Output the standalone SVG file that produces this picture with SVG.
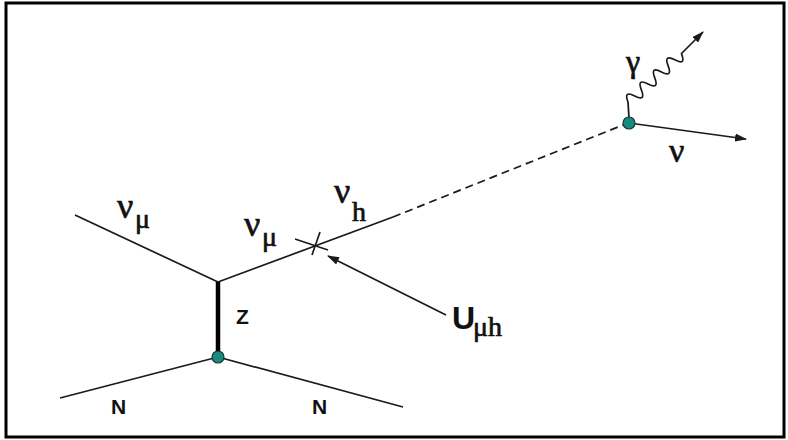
<svg xmlns="http://www.w3.org/2000/svg" width="788" height="440" viewBox="0 0 788 440">
<style>
.ln{stroke:#1a1a1a;stroke-width:1.7;fill:none}
.g{font-family:"Liberation Serif",serif;fill:#111;stroke:#111;stroke-width:0.7}
.b{font-family:"Liberation Sans",Arial,sans-serif;font-weight:bold;fill:#111}
.dot{fill:#1a8a7e;stroke:#103a36;stroke-width:1.2}
</style>
<defs>
<marker id="ah" viewBox="0 0 12 8" refX="11" refY="4" markerWidth="12" markerHeight="8" markerUnits="userSpaceOnUse" orient="auto">
<path d="M0,0 L12,4 L0,8 Z" fill="#1a1a1a"/>
</marker>
</defs>
<rect x="6" y="3" width="778" height="434" fill="#fff" stroke="#000" stroke-width="3"/>
<g id="connectors">
<line class="ln" x1="75" y1="215" x2="218" y2="282"/>
<line x1="218" y1="282" x2="218" y2="357" stroke="#000" stroke-width="4.5"/>
<line class="ln" x1="60" y1="398" x2="218" y2="357"/>
<line class="ln" x1="218" y1="357" x2="403" y2="407"/>
<line class="ln" x1="218" y1="282" x2="393" y2="217"/>
<line class="ln" x1="393" y1="217" x2="623" y2="125" stroke-dasharray="8,5"/>
<line class="ln" x1="295" y1="239" x2="328" y2="250"/>
<line class="ln" x1="320" y1="232" x2="312" y2="255"/>
<line class="ln" x1="446" y1="315" x2="328" y2="256" marker-end="url(#ah)"/>
<line class="ln" x1="629" y1="123" x2="746" y2="139" marker-end="url(#ah)"/>
<path class="ln" d="M629,118 L628,102"/>
<path class="ln" transform="translate(628,102) rotate(-42)" d="M0,0 q4.5,-12 9,0 t9,0 t9,0 t9,0 t9,0 t9,0 t9,0 t9,0"/>
<line class="ln" x1="681" y1="54" x2="703" y2="32" marker-end="url(#ah)"/>
</g>
<g id="vertex-top"><circle class="dot" cx="629" cy="123" r="6"/></g>
<g id="vertex-bottom"><circle class="dot" cx="218" cy="357" r="6"/></g>
<g id="labels">
<text class="g" x="117" y="218" font-size="36">ν</text><text class="g" x="135" y="228" font-size="28">μ</text>
<text class="g" x="244" y="236" font-size="36">ν</text><text class="g" x="262" y="246" font-size="28">μ</text>
<text class="g" x="334" y="203" font-size="36">ν</text><text class="g" x="352" y="221" font-size="28">h</text>
<text class="g" x="626" y="72" font-size="32">γ</text>
<text class="g" x="669" y="162" font-size="34">ν</text>
<text class="b" x="236" y="324" font-size="21">Z</text>
<text class="b" x="111" y="414" font-size="21">N</text>
<text class="b" x="312" y="414" font-size="21">N</text>
<text class="b" x="452" y="329" font-size="32">U</text><text class="g" x="473" y="336" font-size="28">μh</text>
</g>
</svg>
